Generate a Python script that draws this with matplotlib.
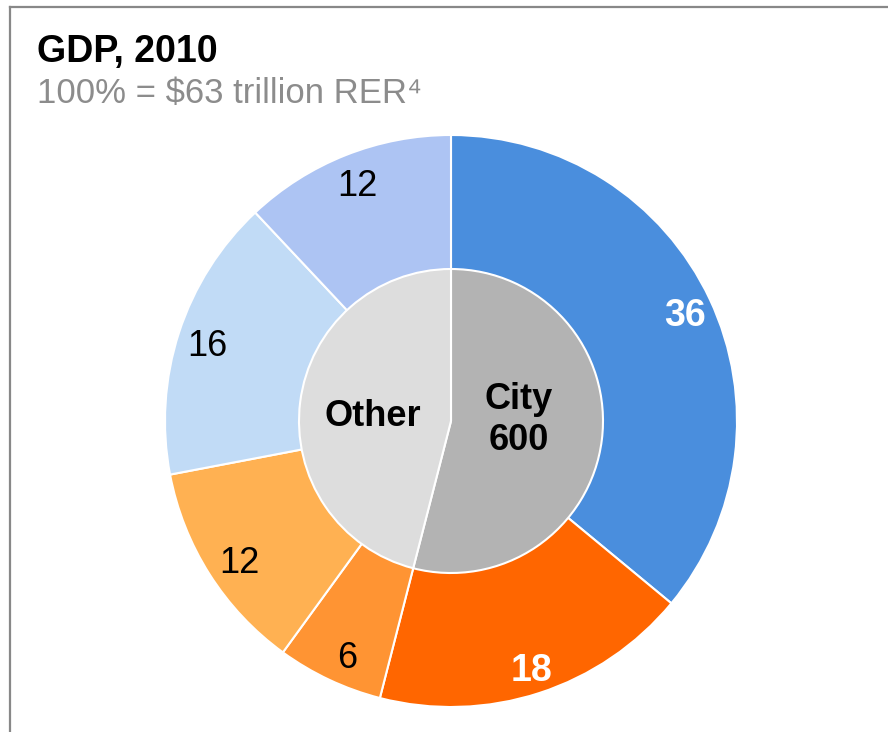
import matplotlib.pyplot as plt
from matplotlib.lines import Line2D

plt.rcParams["font.family"] = ["Liberation Sans", "DejaVu Sans"]

# outer ring: share of GDP (%)
outer_values = [36, 18, 6, 12, 16, 12]
outer_colors = ["#4A8EDD", "#FF6600", "#FF9433", "#FFB152", "#C1DBF6", "#ADC4F3"]
outer_text_colors = ["white", "white", "black", "black", "black", "black"]
outer_bold = [True, True, False, False, False, False]

# inner pie: city vs other
inner_values = [54, 46]
inner_labels = ["City\n600", "Other"]
inner_colors = ["#B3B3B3", "#DDDDDD"]

title = "GDP, 2010"
subtitle = "100% = $63 trillion RER\u2074"

W, H = 888, 732
fig = plt.figure(figsize=(W / 100, H / 100), dpi=100)
ax = fig.add_axes([0, 0, 1, 1])

cx, cy = 451, H - 421
R_out, R_in = 286, 152

wedges, texts = ax.pie(
    outer_values, colors=outer_colors, startangle=90, counterclock=False,
    center=(cx, cy), radius=R_out, labels=[str(v) for v in outer_values],
    labeldistance=0.9, wedgeprops=dict(edgecolor="white", linewidth=1.5),
    textprops=dict(fontsize=26), frame=True,
)
for t, c, b in zip(texts, outer_text_colors, outer_bold):
    t.set_color(c)
    t.set_ha("center")
    t.set_va("center")
    x, y = t.get_position()
    # lower labels sit a little further round in the original
    dx = 6 if y < cy - 100 and x < cx else 1
    t.set_position((x + dx, y - 5))
    if b:
        t.set_fontweight("bold")
        t.set_fontsize(27)

w2, t2 = ax.pie(
    inner_values, colors=inner_colors, startangle=90, counterclock=False,
    center=(cx, cy), radius=R_in, labels=inner_labels, labeldistance=0.5,
    wedgeprops=dict(edgecolor="white", linewidth=1.5),
    textprops=dict(fontsize=26, fontweight="bold", linespacing=1.2), frame=True,
)
for t in t2:
    t.set_ha("center")
    t.set_va("center")
t2[0].set_position((cx + 68, cy + 1))
t2[1].set_position((cx - 78, cy + 5))

ax.set_xlim(0, W)
ax.set_ylim(0, H)
ax.set_aspect("equal")
ax.axis("off")

fig.text(37 / W, 1 - 62 / H, title, fontsize=27, fontweight="bold", va="baseline", ha="left")
fig.text(37 / W, 1 - 103 / H, subtitle, fontsize=25, color="#8C8C8C", va="baseline", ha="left")

# frame (left and top edges)
fig.add_artist(Line2D([10 / W, 10 / W], [0, 1 - 7 / H], color="#888888", lw=1.6,
                      transform=fig.transFigure))
fig.add_artist(Line2D([10 / W, 1], [1 - 7 / H, 1 - 7 / H], color="#888888", lw=1.6,
                      transform=fig.transFigure))

fig.savefig("out.png", dpi=100)
